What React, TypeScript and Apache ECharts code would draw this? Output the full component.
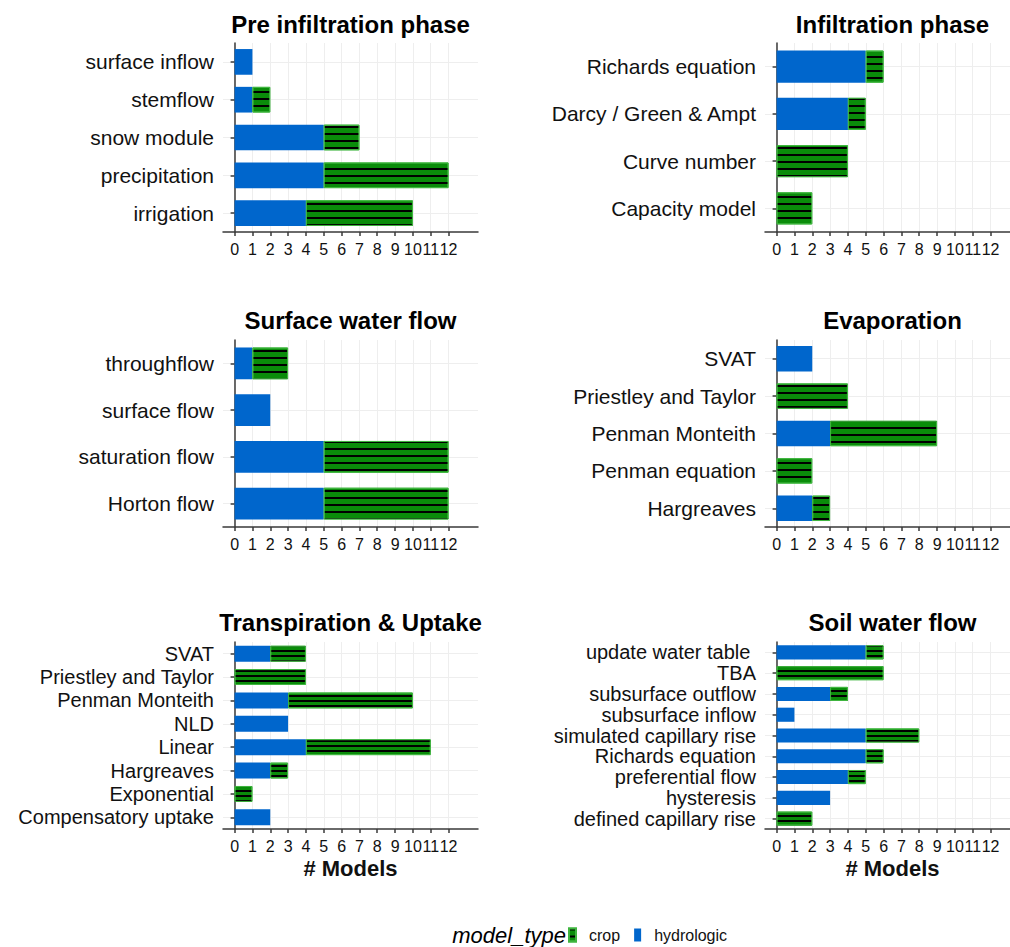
import React, { useEffect, useRef } from 'react';
import * as echarts from 'echarts';

// ---------- data ----------
const panelTitles = [
  'Pre infiltration phase',
  'Infiltration phase',
  'Surface water flow',
  'Evaporation',
  'Transpiration & Uptake',
  'Soil water flow',
];

const preCategories = ['surface inflow', 'stemflow', 'snow module', 'precipitation', 'irrigation'];
const preHydrologic = [1, 1, 5, 5, 4];
const preCrop = [0, 1, 2, 7, 6];

const infCategories = ['Richards equation', 'Darcy / Green & Ampt', 'Curve number', 'Capacity model'];
const infHydrologic = [5, 4, 0, 0];
const infCrop = [1, 1, 4, 2];

const surfCategories = ['throughflow', 'surface flow', 'saturation flow', 'Horton flow'];
const surfHydrologic = [1, 2, 5, 5];
const surfCrop = [2, 0, 7, 7];

const evapCategories = ['SVAT', 'Priestley and Taylor', 'Penman Monteith', 'Penman equation', 'Hargreaves'];
const evapHydrologic = [2, 0, 3, 0, 2];
const evapCrop = [0, 4, 6, 2, 1];

const transCategories = ['SVAT', 'Priestley and Taylor', 'Penman Monteith', 'NLD', 'Linear', 'Hargreaves', 'Exponential', 'Compensatory uptake'];
const transHydrologic = [2, 0, 3, 3, 4, 2, 0, 2];
const transCrop = [2, 4, 7, 0, 7, 1, 1, 0];

const soilCategories = ['update water table ', 'TBA', 'subsurface outflow', 'subsurface inflow', 'simulated capillary rise', 'Richards equation', 'preferential flow', 'hysteresis', 'defined capillary rise'];
const soilHydrologic = [5, 0, 3, 1, 5, 5, 4, 3, 0];
const soilCrop = [1, 6, 1, 0, 3, 1, 1, 0, 2];

const xTickValues = [0, 1, 2, 3, 4, 5, 6, 7, 8, 9, 10, 11, 12];
const seriesNames = ['crop', 'hydrologic'];
const xAxisTitle = '# Models';
const legendTitle = 'model_type';

// ---------- layout / style ----------
const FONT = "'Liberation Sans', Arial, Helvetica, sans-serif";
const BLUE = '#0066CC';
const GREEN = '#0A8C0A';
const GRID_W = 255;

const panels = [
  { cats: preCategories, hyd: preHydrologic, crop: preCrop, left: 223, top: 43, height: 189, stripe: [2, 5], bottom: false, labelSize: 21 },
  { cats: infCategories, hyd: infHydrologic, crop: infCrop, left: 765, top: 43, height: 189, stripe: [2, 5], bottom: false, labelSize: 21 },
  { cats: surfCategories, hyd: surfHydrologic, crop: surfCrop, left: 223, top: 340, height: 187, stripe: [2, 5], bottom: false, labelSize: 21 },
  { cats: evapCategories, hyd: evapHydrologic, crop: evapCrop, left: 765, top: 340, height: 187, stripe: [2, 5], bottom: false, labelSize: 21 },
  { cats: transCategories, hyd: transHydrologic, crop: transCrop, left: 223, top: 642, height: 187, stripe: [1.5, 3], bottom: true, labelSize: 20 },
  { cats: soilCategories, hyd: soilHydrologic, crop: soilCrop, left: 765, top: 642, height: 187, stripe: [1.5, 3], bottom: true, labelSize: 20 },
];

const titleY = [24, 24, 320, 320, 622, 622];

export default function App() {
  const ref = useRef<HTMLDivElement>(null);

  useEffect(() => {
    if (!ref.current) return;
    const chart = echarts.init(ref.current, null, { renderer: 'svg' });

    const axisLineStyle = { color: '#3a3a3a', width: 1.5 };
    const gridLineStyle = { color: '#EEEEEE', width: 1 };

    const grid = panels.map((p) => ({
      left: p.left,
      top: p.top,
      width: GRID_W,
      height: p.height,
      containLabel: false,
      outerBoundsMode: 'none',
    }));

    const xAxis = panels.map((p, i) => ({
      type: 'value',
      gridIndex: i,
      min: -0.65,
      max: 13.65,
      axisLine: { show: true, onZero: false, lineStyle: axisLineStyle },
      axisTick: { show: true, length: 4, customValues: xTickValues, lineStyle: axisLineStyle },
      axisLabel: {
        show: true,
        customValues: xTickValues,
        fontSize: 16,
        color: '#111',
        fontFamily: FONT,
        margin: 9,
        hideOverlap: false,
      },
      splitLine: { show: true, lineStyle: gridLineStyle },
      name: p.bottom ? xAxisTitle : '',
      nameLocation: 'middle',
      nameGap: 28,
      nameTextStyle: { fontSize: 22, fontWeight: 'bold', color: '#111', fontFamily: FONT },
    }));

    const yAxis = panels.map((p, i) => ({
      type: 'category',
      gridIndex: i,
      data: p.cats,
      inverse: true,
      axisLine: { show: true, lineStyle: axisLineStyle },
      axisTick: { show: true, length: 4, alignWithLabel: true, lineStyle: axisLineStyle },
      axisLabel: {
        fontSize: p.labelSize,
        lineHeight: p.labelSize,
        color: '#111',
        fontFamily: FONT,
        margin: 9,
        interval: 0,
      },
      splitLine: { show: true, alignWithLabel: true, lineStyle: gridLineStyle },
    }));

    const series: any[] = [];
    panels.forEach((p, i) => {
      series.push({
        type: 'bar',
        name: seriesNames[1],
        xAxisIndex: i,
        yAxisIndex: i,
        stack: 'panel' + i,
        barWidth: '68%',
        data: p.hyd.map((v) => (v === 0 ? null : v)),
        itemStyle: { color: BLUE },
      });
      series.push({
        type: 'bar',
        name: seriesNames[0],
        xAxisIndex: i,
        yAxisIndex: i,
        stack: 'panel' + i,
        barWidth: '68%',
        data: p.crop.map((v) => (v === 0 ? null : v)),
        itemStyle: {
          color: GREEN,
          borderColor: '#3FB53F',
          borderWidth: 1,
          decal: {
            symbol: 'rect',
            symbolSize: 1,
            dashArrayX: [1, 0],
            dashArrayY: p.stripe,
            rotation: 0,
            color: '#000000',
          },
        },
      });
    });

    const graphic: any[] = panels.map((p, i) => ({
      type: 'text',
      x: p.left + GRID_W / 2,
      y: titleY[i],
      style: {
        text: panelTitles[i],
        fontSize: 24,
        fontWeight: 'bold',
        fontFamily: FONT,
        fill: '#000',
        align: 'center',
        verticalAlign: 'middle',
      },
    }));
    graphic.push({
      type: 'text',
      x: 566,
      y: 935,
      style: {
        text: legendTitle,
        fontSize: 22,
        fontStyle: 'italic',
        fontFamily: FONT,
        fill: '#000',
        align: 'right',
        verticalAlign: 'middle',
      },
    });

    chart.setOption({
      animation: false,
      backgroundColor: '#ffffff',
      grid,
      xAxis,
      yAxis,
      series,
      graphic,
      legend: {
        data: seriesNames,
        left: 568,
        top: 927,
        padding: 0,
        icon: 'rect',
        itemWidth: 7,
        itemHeight: 13,
        itemGap: 14,
        selectedMode: false,
        textStyle: { fontSize: 16, color: '#111', fontFamily: FONT, padding: [0, 0, 0, 8] },
      },
    });

    return () => chart.dispose();
  }, []);

  return (
    <div
      ref={ref}
      style={{ position: 'fixed', left: 0, top: 0, width: 1010, height: 947, background: '#fff' }}
    />
  );
}
